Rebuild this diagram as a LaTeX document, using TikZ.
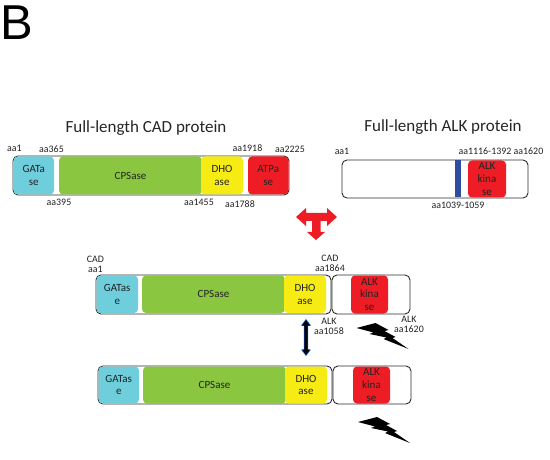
\documentclass[tikz,border=0pt]{standalone}
\usepackage{fontspec}
\setmainfont{Carlito}
\newfontfamily\bigfont{Liberation Sans}
\definecolor{cyanD}{HTML}{6FCEDC}
\definecolor{greenD}{HTML}{8AC640}
\definecolor{yellowD}{HTML}{F6EC13}
\definecolor{redD}{HTML}{EE1D25}
\definecolor{blueD}{HTML}{2F4DA0}
\definecolor{frameD}{HTML}{2B2B2B}
\definecolor{inkD}{HTML}{222222}
\tikzset{
  x=1pt,y=-1pt,
  dom/.style={inner sep=0,align=center,text=inkD,font=\fontsize{11}{12.8}\selectfont},
  lab/.style={font=\fontsize{9.9}{10}\selectfont,text=inkD,inner sep=0,align=center},
  ttl/.style={font=\fontsize{17}{19}\selectfont,text=black!85,inner sep=0},
}
\newcommand{\domain}[7]{% name, x1, x2, y1, y2, colour, text
  \path[fill=#6,rounded corners=4pt] (#2,#4) rectangle (#3,#5);
  \node[dom] (#1) at ({(#2+#3)/2},{(#4+#5)/2}) {#7};}
\newcommand{\frameb}[5]{% name, x1, x2, y1, y2
  \draw[draw=frameD,line width=0.9pt,rounded corners=5pt,fill=white] (#2,#4) rectangle (#3,#5);
  \coordinate (#1) at ({(#2+#3)/2},{(#4+#5)/2});}
\newcommand{\bolt}[3]{% name, dx, dy
  \fill[black,shift={(#2,#3)}] (0,0) -- (19,-5) -- (32,2) -- (28,3) -- (39,9) -- (36,10) -- (52,21) -- (27,11) -- (30,9.5) -- (13,6) -- (17,4.5) -- cycle;
  \coordinate (#1) at (#2,#3);}
\begin{document}
\begin{tikzpicture}
\useasboundingbox (0,0) rectangle (550,460);
\fill[white] (0,0) rectangle (550,460);
\node[inner sep=0,font=\bigfont\fontsize{49}{49}\selectfont] (panel) at (17,22.5) {B};
\node[ttl] (t1) at (146,128) {Full-length CAD protein};
\node[ttl] (t2) at (443,127) {Full-length ALK protein};

% row 1 CAD
\frameb{f1}{13}{289}{156}{195}
\domain{a1}{13.5}{54}{156.5}{194.5}{cyanD}{GATa\\se}
\domain{a2}{59}{202}{156.5}{194.5}{greenD}{CPSase}
\domain{a3}{201}{243}{156.5}{194.5}{yellowD}{DHO\\ase}
\domain{a4}{248}{288.5}{156.5}{194.5}{redD}{ATPa\\se}
\node[lab] (l1) at (14.5,148) {aa1};
\node[lab] (l2) at (51.5,149) {aa365};
\node[lab] (l3) at (59,202.5) {aa395};
\node[lab] (l4) at (199,202.5) {aa1455};
\node[lab] (l5) at (240,204) {aa1788};
\node[lab] (l6) at (247.5,148) {aa1918};
\node[lab] (l7) at (290,149) {aa2225};

% ALK
\frameb{f2}{342}{528}{160}{198}
\path[fill=blueD] (455,160.5) rectangle (461,197.5);
\coordinate (tm) at (458,179);
\domain{b1}{468}{506}{160.5}{197.5}{redD}{ALK\\kina\\se}
\node[lab] (m1) at (342,151) {aa1};
\node[lab] (m2) at (485,151) {aa1116-1392};
\node[lab] (m3) at (528.5,151) {aa1620};
\node[lab] (m4) at (458,205) {aa1039-1059};

% red T arrow
\fill[redD] (296,217) -- (306,208) -- (306,213) -- (327,213) -- (327,208) -- (337,217) -- (327,226) -- (327,221) -- (320.5,221) -- (320.5,232) -- (325,232) -- (316,240) -- (307,232) -- (312,232) -- (312,221) -- (306,221) -- (306,226) -- cycle;

% row 2 fusion
\frameb{f3}{96}{331}{275}{314}
\domain{c1}{96.5}{138}{275.5}{313}{cyanD}{GATas\\e}
\domain{c2}{142}{285}{275.5}{313}{greenD}{CPSase}
\domain{c3}{284}{326}{275.5}{313}{yellowD}{DHO\\ase}
\frameb{f4}{332}{410}{275}{314}
\domain{c4}{351}{388}{275.5}{313.5}{redD}{ALK\\kina\\se}
\node[lab] (n1) at (95.5,264.5) {CAD\\aa1};
\node[lab] (n2) at (330,263.5) {CAD\\aa1864};
\node[lab] (n3) at (329,326.5) {ALK\\aa1058};
\node[lab] (n4) at (409,324) {ALK\\aa1620};
\bolt{z1}{356.5}{328}

% row 3 fusion
\frameb{f5}{98}{332}{366}{404}
\domain{d1}{98.5}{139}{366.5}{403.5}{cyanD}{GATas\\e}
\domain{d2}{143}{286}{366.5}{403.5}{greenD}{CPSase}
\domain{d3}{285}{327}{366.5}{403.5}{yellowD}{DHO\\ase}
\frameb{f6}{333}{411}{366}{404}
\domain{d4}{353}{390}{366.5}{403.5}{redD}{ALK\\kina\\se}
\bolt{z2}{358}{422}

% double arrow between fusions
\coordinate (u1) at (306,319.5);
\coordinate (u2) at (306,355.5);
\fill[blue!60!cyan] (306,319) -- (311,325.5) -- (308.2,325.5) -- (308.2,349.5) -- (311,349.5) -- (306,356) -- (301,349.5) -- (303.8,349.5) -- (303.8,325.5) -- (301,325.5) -- cycle;
\fill[black] (306,320) -- (310,325.5) -- (307.6,325.5) -- (307.6,349.5) -- (310,349.5) -- (306,355) -- (302,349.5) -- (304.4,349.5) -- (304.4,325.5) -- (302,325.5) -- cycle;
\end{tikzpicture}
\end{document}
